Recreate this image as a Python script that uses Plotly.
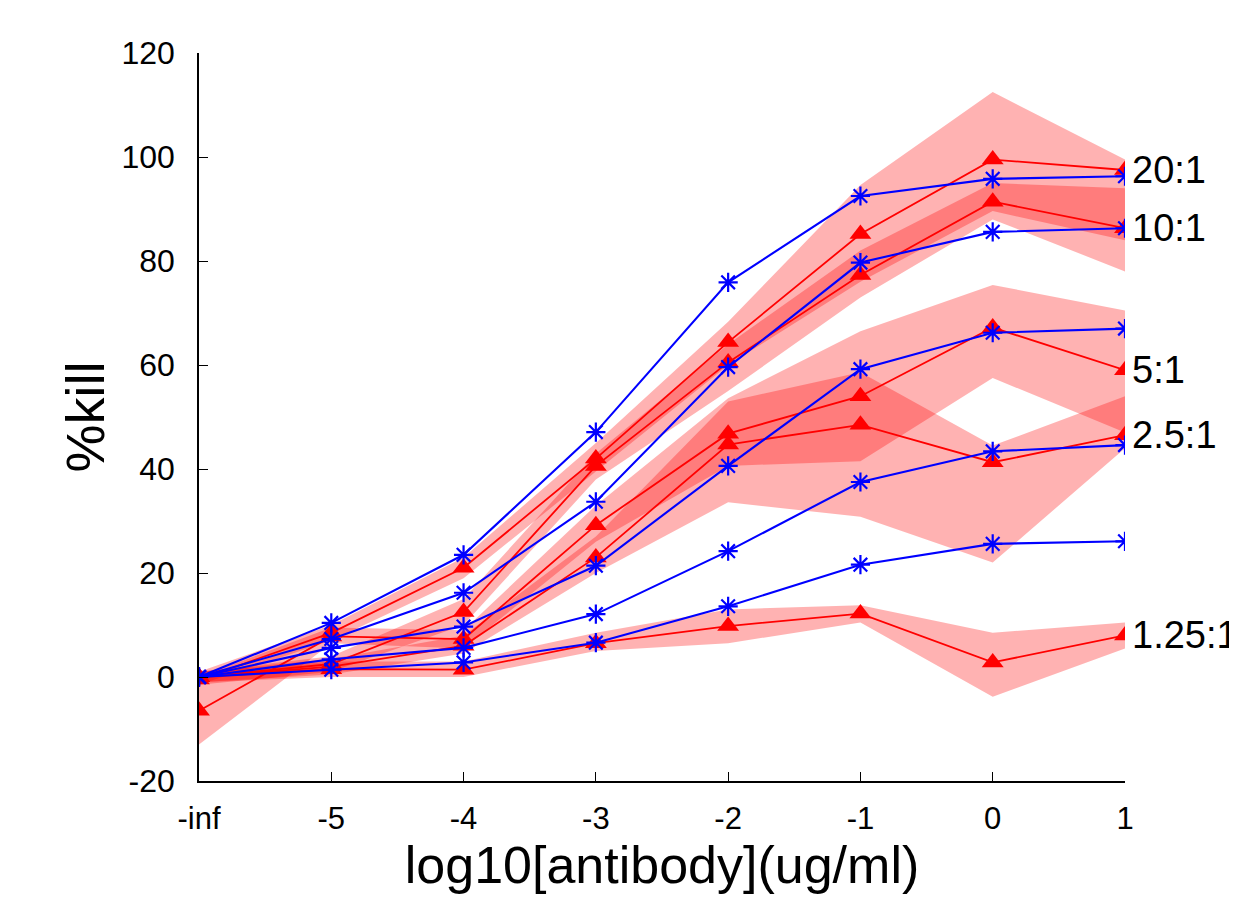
import plotly.graph_objects as go

x_labels = ["-inf", "-5", "-4", "-3", "-2", "-1", "0", "1"]
ratios = ["20:1", "10:1", "5:1", "2.5:1", "1.25:1"]

# red series (triangles) with shaded ranges
red_20 = [-0.5, 8.5, 21.0, 42.0, 64.4, 85.2, 99.5, 97.5]
red_10 = [0.0, 2.5, 12.5, 40.6, 60.5, 77.3, 91.4, 86.3]
red_5 = [-6.5, 7.8, 7.3, 29.2, 46.8, 54.0, 67.2, 59.0]
red_2_5 = [0.0, 2.0, 6.0, 23.0, 44.7, 48.5, 41.3, 46.5]
red_1_25 = [0.0, 1.5, 1.4, 6.5, 9.8, 12.2, 2.8, 8.0]

red_20_lo = [-1.5, 7.0, 19.0, 39.5, 60.0, 76.0, 89.6, 84.0]
red_20_hi = [1.0, 10.0, 23.0, 45.0, 68.3, 94.6, 112.5, 99.5]
red_10_lo = [-1.5, 1.0, 10.0, 38.0, 55.0, 73.0, 88.0, 78.0]
red_10_hi = [1.0, 4.0, 15.0, 43.0, 64.0, 82.0, 95.0, 94.0]
red_5_lo = [-13.0, 6.5, 5.5, 26.0, 40.6, 41.5, 57.5, 47.0]
red_5_hi = [0.0, 9.5, 9.0, 33.0, 53.6, 66.5, 75.4, 70.5]
red_2_5_lo = [-1.0, 0.5, 4.5, 20.0, 33.6, 30.8, 22.0, 44.0]
red_2_5_hi = [1.0, 3.5, 8.0, 27.0, 53.0, 58.6, 44.5, 54.0]
red_1_25_lo = [-1.0, 0.0, 0.0, 5.0, 6.5, 10.5, -3.8, 5.5]
red_1_25_hi = [1.0, 3.0, 3.0, 8.5, 13.0, 13.8, 8.5, 10.5]

# blue series (asterisks)
blue_20 = [0.0, 10.4, 23.5, 47.1, 75.9, 92.5, 95.8, 96.3]
blue_10 = [0.0, 7.3, 16.2, 33.7, 59.6, 79.7, 85.6, 86.3]
blue_5 = [0.0, 5.6, 9.7, 21.4, 40.6, 59.2, 66.2, 67.0]
blue_2_5 = [0.0, 3.4, 5.6, 12.1, 24.2, 37.5, 43.4, 44.6]
blue_1_25 = [0.0, 1.4, 2.8, 6.6, 13.6, 21.6, 25.6, 26.1]

y_ticks = [-20, 0, 20, 40, 60, 80, 100, 120]
y_tick_text = ["-20", "0", "20", "40", "60", "80", "100", "120"]

reds = [red_20, red_10, red_5, red_2_5, red_1_25]
los = [red_20_lo, red_10_lo, red_5_lo, red_2_5_lo, red_1_25_lo]
his = [red_20_hi, red_10_hi, red_5_hi, red_2_5_hi, red_1_25_hi]
blues = [blue_20, blue_10, blue_5, blue_2_5, blue_1_25]

FONT = "Liberation Sans, Arial, sans-serif"

fig = go.Figure()

for lo, hi in zip(los, his):
    fig.add_trace(go.Scatter(
        x=x_labels + x_labels[::-1], y=hi + lo[::-1],
        fill="toself", fillcolor="rgba(255,0,0,0.3)",
        line=dict(width=0), mode="lines", hoverinfo="skip", showlegend=False))

for r in reds:
    fig.add_trace(go.Scatter(
        x=x_labels, y=r, mode="lines+markers",
        line=dict(color="#ff0000", width=1.8),
        marker=dict(symbol="triangle-up", size=19, color="#ff0000"),
        showlegend=False))

for b in blues:
    fig.add_trace(go.Scatter(
        x=x_labels, y=b, mode="lines+markers",
        line=dict(color="#0000ff", width=2.1),
        marker=dict(symbol="asterisk-open", size=16,
                    line=dict(color="#0000ff", width=2.2)),
        showlegend=False))

last_idx = len(x_labels) - 1
for name, r in zip(ratios, reds):
    fig.add_annotation(x=last_idx, y=r[-1], xref="x", yref="y",
                       text=name, showarrow=False,
                       xanchor="left", yanchor="middle", xshift=5,
                       font=dict(size=38, color="black", family=FONT))

fig.update_layout(
    width=1237, height=901,
    margin=dict(l=191, r=120, t=45, b=128),
    paper_bgcolor="white", plot_bgcolor="white",
    font=dict(family=FONT, color="black"),
    xaxis=dict(
        type="category", categoryorder="array", categoryarray=x_labels,
        range=[0, 7], showgrid=False, zeroline=False, automargin=False,
        showline=True, linecolor="black", linewidth=1.5,
        ticks="inside", ticklen=9, tickcolor="black",
        tickfont=dict(size=31), ticklabelstandoff=9,
        title=dict(text="log10[antibody](ug/ml)", font=dict(size=52), standoff=0),
    ),
    yaxis=dict(
        range=[-20, 120], tickvals=y_ticks, ticktext=y_tick_text,
        showgrid=False, zeroline=False, automargin=False,
        showline=True, linecolor="black", linewidth=1.5,
        ticks="inside", ticklen=9, tickcolor="black",
        tickfont=dict(size=32), ticklabelstandoff=16,
        title=dict(text="%kill", font=dict(size=54), standoff=0),
    ),
)

fig.write_html("out.html")
